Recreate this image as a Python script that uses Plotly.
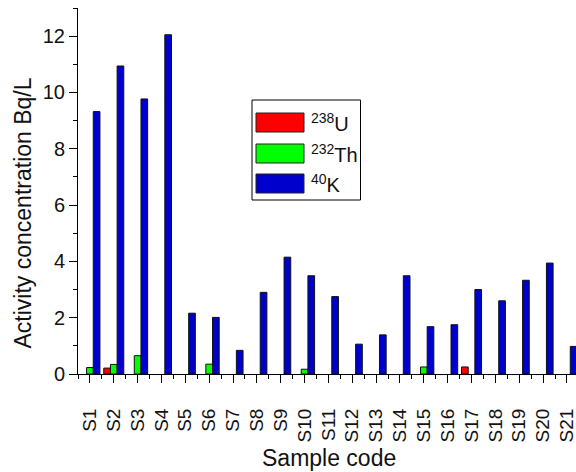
import plotly.graph_objects as go

samples = ["S1", "S2", "S3", "S4", "S5", "S6", "S7", "S8", "S9", "S10", "S11",
           "S12", "S13", "S14", "S15", "S16", "S17", "S18", "S19", "S20", "S21"]
u238 = [None, 0.21, None, None, None, None, None, None, None, None, None,
        None, None, None, None, None, 0.25, None, None, None, None]
th232 = [0.23, 0.34, 0.65, None, None, 0.35, None, None, None, 0.17, None,
         None, None, None, 0.25, None, None, None, None, None, None]
k40 = [9.32, 10.94, 9.77, 12.05, 2.16, 2.01, 0.84, 2.90, 4.15, 3.49, 2.75,
       1.06, 1.39, 3.49, 1.68, 1.75, 3.00, 2.60, 3.33, 3.94, 0.98]

series_names = ["<sup>238</sup>U", "<sup>232</sup>Th", "<sup>40</sup>K"]
series_colors = ["#FF0000", "#00FF00", "#0000CC"]
series_values = [u238, th232, k40]

x_title = "Sample code"
y_title = "Activity concentration Bq/L"

xs = list(range(len(samples)))

fig = go.Figure()
for name, color, vals in zip(series_names, series_colors, series_values):
    fig.add_trace(go.Bar(
        x=xs, y=vals, name=name,
        marker=dict(color=color, line=dict(color="#111111", width=1)),
        showlegend=False,
    ))

# plot-area pixel frame
L, R, B, T = 78, 576, 374, 8
def px(x):
    return (x - L) / (R - L)
def py(y):
    return (B - y) / (B - T)

FONT = "Liberation Sans, Arial, sans-serif"

# manual legend (box with wide swatches)
shapes = [dict(type="rect", xref="paper", yref="paper",
               x0=px(252), x1=px(360.5), y0=py(200), y1=py(100),
               line=dict(color="black", width=1), fillcolor="white", layer="above")]
annotations = []
row_tops = [113, 144, 174]
for name, color, top in zip(series_names, series_colors, row_tops):
    shapes.append(dict(type="rect", xref="paper", yref="paper",
                       x0=px(256), x1=px(304), y0=py(top + 19), y1=py(top),
                       line=dict(color="#222222", width=1), fillcolor=color, layer="above"))
    annotations.append(dict(xref="paper", yref="paper", x=px(309), y=py(top + 9.5),
                            xanchor="left", yanchor="middle", text=name, showarrow=False,
                            font=dict(family=FONT, size=20, color="#111111")))

# axis titles placed as in the reference
annotations.append(dict(xref="paper", yref="paper", x=px(22), y=py(213.5),
                        xanchor="center", yanchor="middle", textangle=-90,
                        text=y_title, showarrow=False,
                        font=dict(family=FONT, size=23, color="#111111")))
annotations.append(dict(xref="paper", yref="paper", x=px(328.5), y=py(458),
                        xanchor="center", yanchor="middle",
                        text=x_title, showarrow=False,
                        font=dict(family=FONT, size=23, color="#111111")))

fig.update_layout(
    width=576, height=472,
    margin=dict(l=L, r=576 - R, t=T, b=472 - B, autoexpand=False),
    paper_bgcolor="white", plot_bgcolor="white",
    barmode="group", bargap=0.16, bargroupgap=0,
    font=dict(family=FONT, color="#111111"),
    shapes=shapes, annotations=annotations,
)
fig.update_xaxes(
    range=[-0.5, 20.38], tickmode="array", tickvals=xs, ticktext=samples,
    tickangle=-90, tickfont=dict(size=19, color="#111111"), automargin=False,
    ticklabelstandoff=18, ticklabeloverflow="allow",
    showline=True, linecolor="black", linewidth=1, mirror=False,
    ticks="outside", ticklen=8, tickcolor="black", showgrid=False, zeroline=False,
    minor=dict(ticks="outside", ticklen=4, tick0=0.5, dtick=1, tickcolor="black"),
)
fig.update_yaxes(
    range=[0, 13], dtick=2, tickfont=dict(size=20, color="#111111"), automargin=False,
    showline=True, linecolor="black", linewidth=1,
    ticks="outside", ticklen=8, tickcolor="black", showgrid=False, zeroline=False,
    minor=dict(ticks="outside", ticklen=4, dtick=1, tickcolor="black"),
)

fig.write_html("out.html", config={"displayModeBar": False},
               post_script="document.body.style.margin='0px';document.body.style.overflow='hidden';")
